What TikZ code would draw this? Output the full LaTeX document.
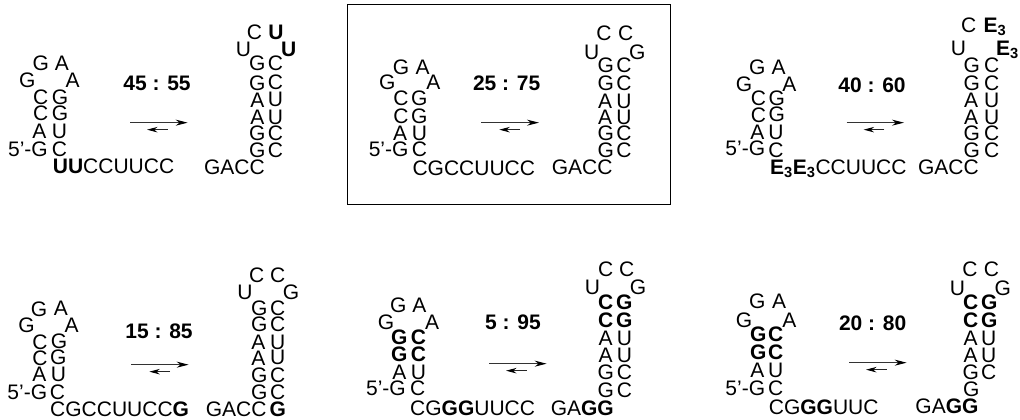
\documentclass[tikz,border=0pt]{standalone}
\usepackage{fontspec}
\setmainfont[Ligatures=NoCommon]{Liberation Sans}
\usetikzlibrary{arrows.meta}

\newcommand{\Ethree}{\textbf{E\textsubscript{3}}}
\newcommand{\Five}{5\symbol{39}-G}
% two arrows of the equilibrium: start, end, height, short arrow start
\newcommand{\Equil}[5]{
  \coordinate (#1la) at (#2,#4);
  \coordinate (#1lb) at (#3,#4);
  \coordinate (#1sa) at (#5,#4+21);
  \coordinate (#1sb) at (#5-62,#4+21);
  \draw[longarrow] (#1la) -- (#1lb);
  \draw[shortarrow] (#1sa) -- (#1sb);
}

\begin{document}
\begin{tikzpicture}[
    x=0.33333pt, y=-0.33333pt,
    nt/.style={inner sep=0pt, anchor=base, font=\fontsize{21}{21}\selectfont},
    strand/.style={nt, anchor=base west},
    prime/.style={nt, anchor=base east},
    ratio/.style={nt, font=\fontsize{21}{21}\selectfont\bfseries},
    longarrow/.style={line width=1pt, draw=black!80, -{Stealth[length=12pt,width=6pt,black]}},
    shortarrow/.style={line width=0.9pt, draw=black!85, -{Stealth[length=10.5pt,width=5.5pt,black]}}
  ]
  \useasboundingbox (0,0) rectangle (3060,1257);

  % Top left
  \begin{scope}
    \foreach \x/\y/\txt [count=\i] in {122/210/G, 186/210/A, 82/262/G, 218/262/A,
        122/312/C, 180/312/G, 122/362/C, 180/362/G, 118/414/A, 178/414/U, 178/468/C,
        763/117/C, 828/117/\textbf{U}, 730/168/U, 866/168/\textbf{U},
        772/212/G, 826/212/C, 772/270/G, 826/268/C, 772/322/A, 826/320/U,
        772/372/A, 826/372/U, 772/422/G, 826/422/C, 772/472/G, 826/472/C}
      \node[nt] (a\i) at (\x,\y) {\txt};
    \node[prime] (aend) at (144,468) {\Five};
    \node[strand] (atail) at (158,520) {\textbf{UU}CCUUCC};
    \node[prime] (ahead) at (795,522) {GACC};
    \node[ratio] (aratio) at (471,272) {45 : 55};
    \Equil{a}{390}{563}{368}{503}
  \end{scope}

  % Top middle, the framed one
  \begin{scope}[shift={(1020,0)}]
    \draw[line width=0.8pt] (22,14) rectangle (990,612);
    \foreach \x/\y/\txt [count=\i] in {183/222/G, 248/222/A, 142/268/G, 280/268/A,
        183/316/C, 238/316/G, 183/370/C, 238/370/G, 180/420/A, 238/420/U, 238/468/C,
        792/122/C, 857/122/C, 755/178/U, 892/178/G,
        797/218/G, 852/218/C, 797/272/G, 852/270/C, 795/324/A, 852/324/U,
        795/372/A, 852/372/U, 797/420/G, 852/420/C, 797/472/G, 852/472/C}
      \node[nt] (b\i) at (\x,\y) {\txt};
    \node[prime] (bend) at (206,468) {\Five};
    \node[strand] (btail) at (217,527) {CGCCUUCC};
    \node[prime] (bhead) at (818,522) {GACC};
    \node[ratio] (bratio) at (500,272) {25 : 75};
    \Equil{b}{424}{597}{368}{540}
  \end{scope}

  % Top right
  \begin{scope}[shift={(2040,0)}]
    \foreach \x/\y/\txt [count=\i] in {232/222/G, 296/222/A, 192/274/G, 328/274/A,
        235/316/C, 290/316/G, 235/366/C, 290/364/G, 232/418/A, 288/418/U, 288/472/C,
        866/97/C, 835/165/U,
        875/217/G, 935/217/C, 875/270/G, 935/270/C, 873/322/A, 935/322/U,
        873/372/A, 935/372/U, 875/420/G, 935/420/C, 875/472/G, 935/472/C}
      \node[nt] (c\i) at (\x,\y) {\txt};
    \node[strand] (cloopa) at (910,97) {\Ethree};
    \node[strand] (cloopb) at (948,165) {\Ethree};
    \node[prime] (cend) at (256,466) {\Five};
    \node[strand] (ctail) at (270,522) {\Ethree\Ethree CCUUCC};
    \node[prime] (chead) at (897,522) {GACC};
    \node[ratio] (cratio) at (576,276) {40 : 60};
    \Equil{c}{500}{672}{368}{613}
  \end{scope}

  % Bottom left
  \begin{scope}[shift={(0,657)}]
    \foreach \x/\y/\txt [count=\i] in {117/292/G, 183/290/A, 80/340/G, 215/340/A,
        120/390/C, 177/388/G, 120/438/C, 175/436/G, 118/488/A, 175/488/U, 172/540/C,
        770/190/C, 833/190/C, 735/240/U, 873/240/G,
        778/288/G, 833/288/C, 778/337/G, 833/337/C, 775/390/A, 833/390/U,
        775/438/A, 833/436/U, 778/490/G, 833/490/C, 778/540/G, 833/540/C,
        833/592/\textbf{G}}
      \node[nt] (d\i) at (\x,\y) {\txt};
    \node[prime] (dend) at (142,540) {\Five};
    \node[strand] (dtail) at (150,592) {CGCCUUCC\textbf{G}};
    \node[prime] (dhead) at (800,592) {GACC};
    \node[ratio] (dratio) at (477,358) {15 : 85};
    \Equil{d}{394}{566}{437}{510}
  \end{scope}

  % Bottom middle
  \begin{scope}[shift={(1020,657)}]
    \foreach \x/\y/\txt [count=\i] in {175/280/G, 238/280/A, 138/332/G, 276/332/A,
        178/376/\textbf{G}, 235/376/\textbf{C}, 178/428/\textbf{G}, 235/428/\textbf{C},
        178/480/A, 235/480/U, 233/530/C,
        797/172/C, 860/172/C, 757/225/U, 894/225/G,
        797/270/\textbf{C}, 853/270/\textbf{G}, 797/326/\textbf{C}, 853/326/\textbf{G},
        797/378/A, 853/378/U, 797/430/A, 853/430/U,
        797/482/G, 853/482/C, 797/534/G, 853/534/C}
      \node[nt] (e\i) at (\x,\y) {\txt};
    \node[prime] (eend) at (198,530) {\Five};
    \node[strand] (etail) at (210,590) {CG\textbf{GG}UUCC};
    \node[prime] (ehead) at (822,588) {GA\textbf{GG}};
    \node[ratio] (eratio) at (519,330) {5 : 95};
    \Equil{e}{447}{620}{434}{560}
  \end{scope}

  % Bottom right
  \begin{scope}[shift={(2040,657)}]
    \foreach \x/\y/\txt [count=\i] in {232/268/G, 297/268/A, 192/325/G, 328/325/A,
        235/368/\textbf{G}, 287/368/\textbf{C}, 235/420/\textbf{G}, 287/420/\textbf{C},
        232/474/A, 287/474/U, 287/528/C,
        870/172/C, 934/172/C, 832/228/U, 968/228/G,
        872/272/\textbf{C}, 928/272/\textbf{G}, 872/326/\textbf{C}, 928/326/\textbf{G},
        872/378/A, 926/378/U, 872/430/A, 926/430/U,
        872/480/G, 926/480/C, 874/532/G}
      \node[nt] (f\i) at (\x,\y) {\txt};
    \node[prime] (fend) at (256,528) {\Five};
    \node[strand] (ftail) at (266,585) {CG\textbf{GG}UUC};
    \node[prime] (fhead) at (896,582) {GA\textbf{GG}};
    \node[ratio] (fratio) at (578,333) {20 : 80};
    \Equil{f}{507}{680}{431}{620}
  \end{scope}
\end{tikzpicture}
\end{document}
